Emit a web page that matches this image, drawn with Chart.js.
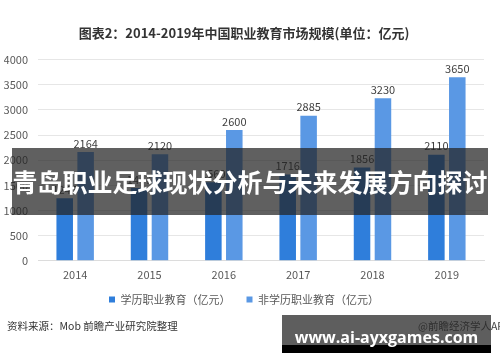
<!DOCTYPE html>
<html>
<head>
<meta charset="utf-8">
<script src="https://cdn.jsdelivr.net/npm/chart.js@4.4.1/dist/chart.umd.min.js"></script>
<style>
  html, body { margin: 0; padding: 0; background: #fff; }
  #wrap { position: relative; width: 500px; height: 362px; overflow: hidden; font-family: "Noto Sans CJK SC", "Noto Sans", sans-serif; }
  #source { position: absolute; left: 7px; top: 318px; font-size: 10.5px; color: #333; white-space: nowrap; }
  #app { position: absolute; left: 418px; top: 318px; font-size: 10.5px; color: #444; white-space: nowrap; }
  #banner { position: absolute; left: 12px; top: 148px; width: 476px; height: 67px; background: rgba(35, 35, 35, 0.72);
            color: #fff; font-weight: bold; font-size: 25px; line-height: 67px; text-align: center; white-space: nowrap; }
  #site { position: absolute; left: 282px; top: 315px; width: 209px; height: 30px; background: rgba(40, 40, 40, 0.75);
          color: #fff; font-family: "Open Sans", "Noto Sans", sans-serif; font-weight: bold; font-size: 16px; line-height: 44px; text-align: center; white-space: nowrap; }
  #siteBar { position: absolute; left: 282px; top: 345px; width: 209px; height: 8px; background: #000; }
</style>
</head>
<body>
<div id="wrap">
  <canvas id="chart" width="500" height="362"></canvas>
  <div id="source">资料来源：Mob 前瞻产业研究院整理</div>
  <div id="app">@前瞻经济学人APP</div>
  <div id="banner">青岛职业足球现状分析与未来发展方向探讨</div>
  <div id="siteBar"></div>
  <div id="site">www.ai-ayxgames.com</div>
</div>
<script>
// chart data
const years = ['2014', '2015', '2016', '2017', '2018', '2019'];
const degreeEdu = [1245, 1447, 1560, 1716, 1856, 2110];
const nonDegreeEdu = [2164, 2120, 2600, 2885, 3230, 3650];
const seriesNames = ['学历职业教育（亿元）', '非学历职业教育（亿元）'];
const chartTitle = '图表2：2014-2019年中国职业教育市场规模(单位：亿元)';

Chart.defaults.font.family = '"Noto Sans CJK SC", "Noto Sans", sans-serif';
Chart.defaults.color = '#595959';

// draw value above each bar
const valueLabels = {
    id: 'valueLabels',
    afterDatasetsDraw(chart) {
        const ctx = chart.ctx;
        ctx.save();
        ctx.font = '11px "Noto Sans CJK SC", sans-serif';
        ctx.fillStyle = '#404040';
        ctx.textAlign = 'center';
        ctx.textBaseline = 'bottom';
        chart.data.datasets.forEach((ds, i) => {
            chart.getDatasetMeta(i).data.forEach((bar, j) => {
                ctx.fillText(ds.data[j], bar.x, bar.y - 3);
            });
        });
        ctx.restore();
    }
};

// pull the legend a bit closer to the axis labels
const legendShift = {
    id: 'legendShift',
    afterLayout(chart) {
        if (chart.legend) {
            chart.legend.top -= 10;
            chart.legend.bottom -= 10;
        }
    }
};

new Chart(document.getElementById('chart'), {
    type: 'bar',
    data: {
        labels: years,
        datasets: [
            {
                label: seriesNames[0],
                data: degreeEdu,
                backgroundColor: '#2f7edb',
                barPercentage: 0.79,
                categoryPercentage: 0.563
            },
            {
                label: seriesNames[1],
                data: nonDegreeEdu,
                backgroundColor: '#5a98e4',
                barPercentage: 0.79,
                categoryPercentage: 0.563
            }
        ]
    },
    options: {
        responsive: false,
        animation: false,
        layout: {
            padding: { left: 4, right: 16, top: 0, bottom: 37 }
        },
        plugins: {
            title: {
                display: true,
                text: chartTitle,
                color: '#333',
                font: { size: 13, weight: 'bold' },
                padding: { top: 25, bottom: 19 }
            },
            legend: {
                position: 'bottom',
                labels: {
                    color: '#595959',
                    font: { size: 11 },
                    boxWidth: 6,
                    boxHeight: 6,
                    padding: 16
                }
            },
            tooltip: { enabled: false }
        },
        scales: {
            x: {
                grid: { display: false, drawTicks: false },
                border: { color: '#dcdcdc' },
                ticks: { color: '#595959', font: { size: 11 }, padding: 7 }
            },
            y: {
                min: 0,
                max: 4000,
                grid: { color: '#e6e6e6', drawTicks: false },
                border: { display: false },
                ticks: { stepSize: 500, color: '#595959', font: { size: 11 }, padding: 10, callback: v => v },
                afterFit: scale => { scale.width = 34; }
            }
        }
    },
    plugins: [valueLabels, legendShift]
});
</script>
</body>
</html>
